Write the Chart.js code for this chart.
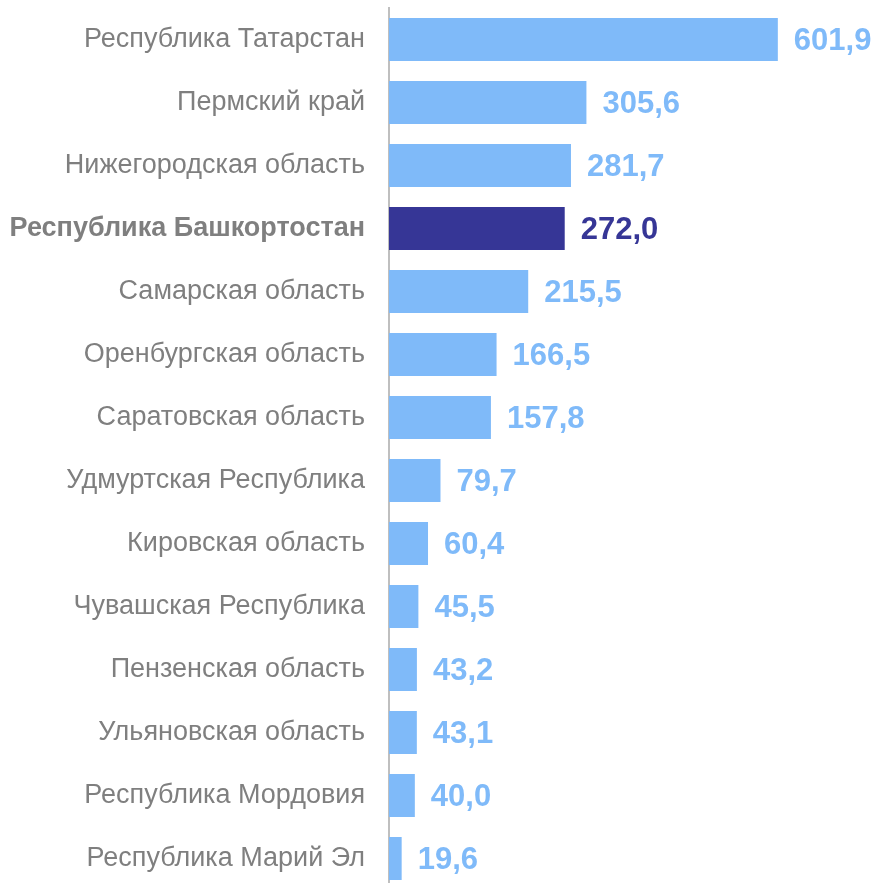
<!DOCTYPE html>
<html><head><meta charset="utf-8">
<script src="https://cdn.jsdelivr.net/npm/chart.js@4/dist/chart.umd.min.js"></script>
<style>html,body{margin:0;padding:0;background:#fff;overflow:hidden}canvas{display:block}</style>
</head><body>
<canvas id="c" width="879" height="890"></canvas>
<script>
const categories = ["Республика Татарстан","Пермский край","Нижегородская область","Республика Башкортостан","Самарская область","Оренбургская область","Саратовская область","Удмуртская Республика","Кировская область","Чувашская Республика","Пензенская область","Ульяновская область","Республика Мордовия","Республика Марий Эл"];
const values = [601.9,305.6,281.7,272.0,215.5,166.5,157.8,79.7,60.4,45.5,43.2,43.1,40.0,19.6];
const highlight = "Республика Башкортостан";
const LIGHT = "#7fbaf9", DARK = "#363696";
const colors = categories.map(c => c === highlight ? DARK : LIGHT);

const valueLabels = {
  id: 'valueLabels',
  afterDatasetsDraw(chart) {
    const ctx = chart.ctx;
    const meta = chart.getDatasetMeta(0);
    ctx.save();
    ctx.font = "bold 31px 'Liberation Sans', Arial, sans-serif";
    ctx.textBaseline = 'middle';
    ctx.textAlign = 'left';
    meta.data.forEach((bar, i) => {
      ctx.fillStyle = colors[i];
      ctx.fillText(values[i].toFixed(1).replace('.', ','), bar.x + 16, bar.y + 2);
    });
    ctx.restore();
  }
};

new Chart(document.getElementById('c'), {
  type: 'bar',
  data: { labels: categories, datasets: [{ data: values, backgroundColor: colors, borderWidth: 0, categoryPercentage: 1, barPercentage: 0.683 }] },
  options: {
    indexAxis: 'y', responsive: false, animation: false,
    layout: { autoPadding: false, padding: { top: 8, left: 0, right: 0, bottom: 0 } },
    plugins: { legend: { display: false }, tooltip: { enabled: false } },
    scales: {
      x: { display: false, min: 0, max: 758.5 },
      y: {
        afterFit(s) { s.width = 389; s.paddingTop = 0; s.paddingBottom = 0; },
        grid: { display: false, drawTicks: false },
        border: { display: true, color: '#bfbfbf', width: 2 },
        ticks: {
          padding: 24, color: '#7f7f7f',
          font: c => ({ family: "'Liberation Sans', Arial, sans-serif", size: 27, weight: categories[c.index] === highlight ? 'bold' : 'normal' })
        }
      }
    }
  },
  plugins: [valueLabels]
});
</script>
</body></html>
